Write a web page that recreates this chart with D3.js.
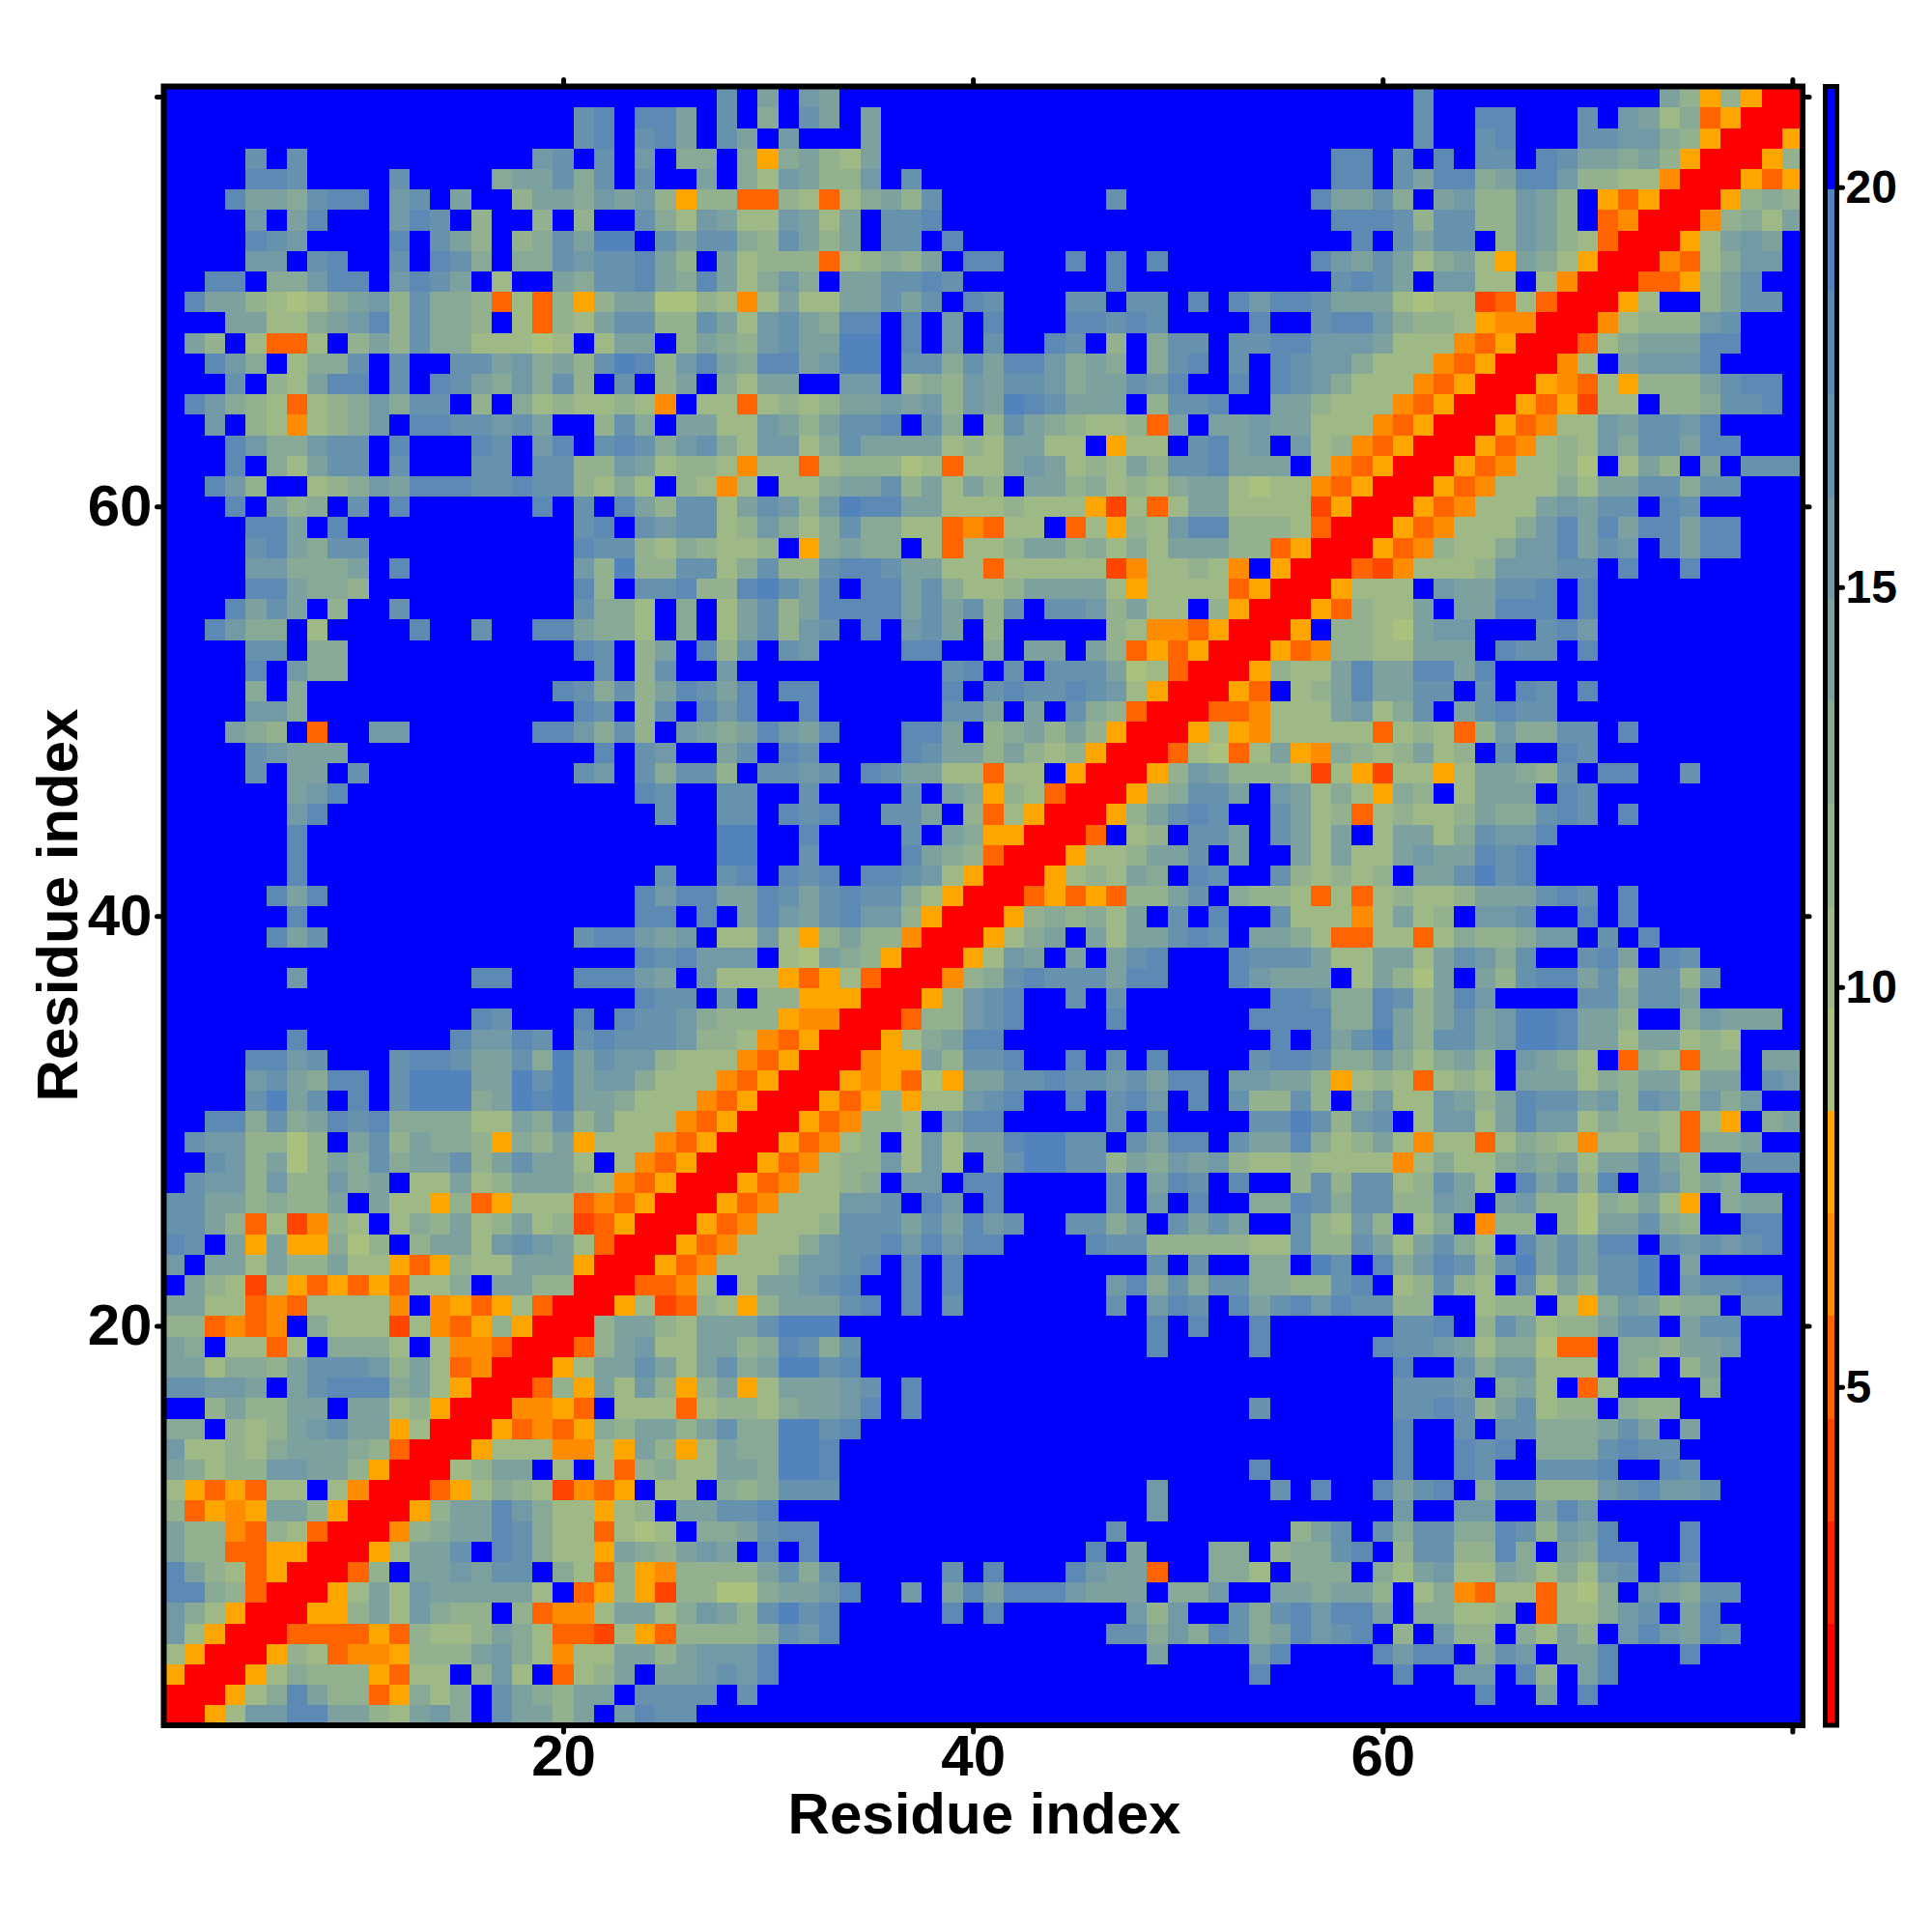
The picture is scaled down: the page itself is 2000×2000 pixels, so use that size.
<!DOCTYPE html>
<html><head><meta charset="utf-8">
<script src="https://cdn.jsdelivr.net/npm/d3@7/dist/d3.min.js"></script>
<style>html,body{margin:0;padding:0;background:#fff}svg{display:block}</style></head>
<body><svg id="c" width="2000" height="2000"></svg>
<script>
// Residue index labels
const tickValues = [20, 40, 60, 80];
const labelledTicks = [20, 40, 60];
const barTicks = [5, 10, 15, 20];
const axisTitle = "Residue index";
// Colour bar range and its sixteen colours, from lowest to highest
const barDomain = [0.77, 21.26];
const palette = ["#ff0000","#ff2200","#ff4500","#ff6400","#ff8c00","#ffa500",
  "#a9c07e","#9eb886","#93b18e","#88a996","#7da19e","#729aa6","#6792ad","#5d8ab5","#5283bd","#0000ff"];
// Symmetric map: each row is residue y, columns x = 1..y, one hex digit per colour-bar bin
const rows = {
80:"fffff fffff fffff fffff fffff ff  cfafba fffff fffff fffff fffff f  fffffff c fffffffffff a 8 5 8 5 0 0",
79:"fffff fffff fffff fffff cd f dd a f  c f 9 f c a f a fffff fffff fffff ffff  fffffff c ff dd fff c f b a 7 9 3 5 0 0",
78:"fffff fffff fffff fffff cd f cd a f  c a f b fff a fffff fffff fffff ffff  fffffff c ff c d fff c c b b 9 8 5 0 0",
77:"ffff c f c fffff ffffff b c f c f b f 9 9  f 9 5 9 a 8 7 a fffff fffff fffff ffff  fff d d f c f d f c c f d c a a 9 a 8 5 0 0",
76:"ffff d d c ffff c ffff 9 a a c 9 c f c ff a  f 9 7 b a 8 8 b f c fffff fffff fffff ff  fff d d f c a d d 9 a d d b 8 8 7 7 4 0 0",
75:"fff d a a 9 c d d f b c f a ff 8 a a 9 b a b 8 5 8  8 3 3 8 7 3 7 9 a 8 c ffffffff c fffffff  ff d a a c 9 f a b 8 8 b a 8 f 5 3 5 0 0",
74:"ffff b f a d fff b d c f 8 ff 8 f 8 ff c 9 7 b  a 7 7 b a 7 a f c c d fffff fffff fffff f  fff d d d c 8 c c 8 8 b a 8 f 3 4 0 0",
73:"ffff d c b ffff d f c a 8 f 8 9 c a e e f c a c  c 9 8 c a 8 a f c c f d fffff fffff fffff  ffff d f c a c c f 8 b a 8 7 3 0 0",
72:"ffff b b f c d ff c f d c 9 f 9 9 c b c c d a 8 f  a 7 8 8 8 3 7 8 9 8 a f d d fff d f d f d fffff  ff d b a c a 7 9 a 7 5 a 9 7 5 0 0",
71:"ff d d f 9 9 b d d f b d c a f 7 ff a 9 c c d a 9 d  a 7 9 b 9 f a a c c d c fffffff d fffffff  fff c d c a f b b 7 7 f 7 4 0 0",
70:"f d a a 8 7 6 7 9 a b 8 c 9 9 8 3 7 3 8 5 8 a a 6 6 8  7 4 7 a 7 7 a a c a c f d c fff c c f c c f d f d b  d d c a a a 7 6 7 7 2 3 7 3 0 0",
69:"fff a a 7 7 9 a b d 8 c 9 9 8 f 7 3 8 7 a c c 8 8 c  a 7 b c a 9 d d f d f b f d fff d d c d c ffff d  ff c d d b 9 8 8 7 5 4 4 0 0",
68:"f a 8 f 7 3 3 7 f 8 a 8 c 9 9 7 7 7 6 7 f 7 a a f 8 a  9 8 b c a a e e f d f b f c ff d c f 8 f 9 c c f c c  d d b b b a 7 7 7 4 3 5 0 0",
67:"ff d b 9 f 7 9 9 c f c ff c c a b 9 a 8 c e d 8 b d  a 9 d d a b e e f c c 9 c a d d b 9 a 9 f 9 c d f c f  d c b b 9 7 7 7 4 3 5 0 0",
66:"fff c f 8 7 a d d f c f d c a 9 b 9 c 8 f c f 8 a f  9 7 a a ff b b f 8 9 8 b a c c b 9 a a c b d ff d f  d c b 9 7 7 7 4 3 5 0 0",
65:"f d b 9 8 7 3 7 8 9 b 9 c c f 8 f 9 7 8 7 7 8 7 4 f 7  7 3 7 8 7 8 a a b a b 8 b a e d c a a a f 8 c c d ff  a a 8 7 7 7 4 3 5 0 0",
64:"ff b f 8 7 4 7 8 9 b f d d c c b c a ff 8 c 9 f a a  7 7 b a 8 a c c d f c 9 f 8 c a 9 8 7 7 8 3 a f a a b  a a 7 7 7 4 3 5 0 0",
63:"fff d b 9 9 b c c f d fff d c f b d f c d c 9 b c  9 7 b b 7 9 c a a a a 7 8 7 a a 7 7 f 5 7 7 f c d a b  f b 7 8 4 3 5 0 0",
62:"fff d f 9 7 a c c f c fff c c f c c 8 8 b a 7 8 8  7 4 7 7 3 7 8 8 8 6 7 3 7 7 a b a 7 8 7 a 8 c c d a a  a f 7 4 3 5 0 0",
61:"ff d b 8 ff 7 8 9 b a d d d c c d c c 8 7 9 7 f 8 7  4 7 f 7 7 9 a a c 8 a 7 a 8 f a a 8 9 7 8 7 9 a a 7 6  7 7 4 3 5 0 0",
60:"fff d f a 8 9 f c f d ffffff d f c f d a 8 c c  7 a c b 8 b e d d a a 7 7 7 8 7 7 7 5 2 7 3 7 a a 7 7  7 7 2 5 0 0",
59:"ffff d d a f d fffff ffffff c d f c b c c  7 8 b 9 7 9 c 9 9 7 7 3 4 3 7 7 f 3 7 5 8 7 b d d 8 8  8 7 3 0 0",
58:"ffff c d a 9 c c fffff fffff d c c 8 7 9 8  7 7 8 f 5 9 a 9 9 f 7 3 7 7 8 a a 8 9 7 9 7 a a a 8 8  3 5 0 0",
57:"ffff b b 9 9 9 a f d ffffffff b 8 e 8 8 c c  7 9 c 8 8 c d d c a a 7 7 3 7 7 7 7 7 2 4 7 7 8 7 4 f  5 0 0",
56:"ffff d d a 9 9 8 fffff fffff d 8 f c c d 8  8 d e c a d f d d a c 9 7 7 8 a a a a 7 5 7 7 7 7 3 5  0 0",
55:"fff d a c a f 8 ff c ffffffff c 9 9 7 f 9 f  7 a c 8 a d d d d a c a c 8 c f c c b 8 a 7 7 f 8 5 0  0",
54:"ff d b 9 9 f 7 ffff d ff c ff d d a 9 9 7 f 9 f  7 a c 8 b c f d f b c a f 8 fffff 8 7 4 4 3 5 0 0",
53:"ffff c c f 9 9 fffff ffffff d c f 8 a f d  8 c f c b ffff d d ff 9 f a a f a 8 3 5 3 5 0 0",
52:"ffff d f b 9 9 fffff fffff ff c f 8 c ff  b fffff fffff c d f c f c c c a 6 7 3 0 0",
51:"ffff 9 f 9 fffff fffff ff d c 9 c 8 a d c  a d f d d ffffff d f c d c c d c b 7 5 0 0",
50:"ffff b b 9 fffff fffff fff d c f 8 c f d  b d ff d ffffff c c a f a f c 9 8 3 0 0",
49:"fff a 9 8 f 3 ff b b ffffff d d b 9 c 8 f b a  9 a d b a d fff d d a f 8 9 a 8 a 8 5 0 0",
48:"ffff c b a a a fffff fffff ff d f c b ff  a c f d c ffff d c a a 8 a 8 7 8 5 0 0",
47:"ffff c f a a f c fffff fffff c b f c 9 c c  8 f c c b c f d c a a 7 7 3 7 7 f 5 0 0",
46:"ffffff a b d fffff fffff ffff d c ff  c c ff c ffff c f a 9 5 8 7 3 0 0",
45:"ffffff b d fffff fffff fffff f c ff  c c f d c d ff c c a f 8 3 7 5 0 0",
44:"ffffff d fffff fffff fffff fffff  e e ff d ffff c f a 9 5 5 0 0",
43:"ffffff d fffff fffff fffff fffff  e e ff c ffff d a 9 8 3 0 0",
42:"ffffff d fffff fffff fffff ff c ff  c d f d c d f d d c b 7 5 0 0",
41:"fffff d a d fffff fffff fffff d b d d  a a d c a c d c c 9 7 5 0 0",
40:"ffffff d fffff fffff fffff f d d f d  f a d b a c d b b 8 5 0 0",
39:"fffff d a c fffff fffff ff c d d b a b f  7 7 b 7 5 8 a 8 8 4 0 0",
38:"fffff fffff fffff fffff fff d c d b  b b f 7 6 a 9 8 5 0 0",
37:"ffffff b ffffffff d d fff d d d b a f b  7 7 7 5 3 5 7 3 0 0",
36:"fffff fffff fffff fffff fff d c c f  b f 8 8 5 5 5 0 0",
35:"fffff fffff fffff d c fff d f d c c b 9  8 8 8 5 4 4 0 0",
34:"ffffff d fffffff d b b d c f c d c c c b 8  8 7 4 3 5 0 0",
33:"ffff d d b c fff c d d c a a c 9 e a c b b 8 7 7  7 4 3 5 0 0",
32:"ffff b c a 9 d d f c e e e a a e c e a b b 9 7 7 7  4 3 5 0 0",
31:"ffff c e a c f d f c e e e 9 a e d e a a 9 7 7 7 4  3 5 0 0",
30:"ff d d 9 c 9 a d c d 9 9 9 9 7 7 a 9 c 8 a 7 7 7 4 3  5 0 0",
29:"f c b b 8 8 6 8 f a c 8 a 9 9 8 5 9 8 a 5 7 7 7 4 3 5  0 0",
28:"ff c b 8 a 6 8 a 9 c 9 a a c 8 a c a a 7 f 7 4 3 5 0  0",
27:"f c b b 8 b 8 8 b 9 a f 7 7 a 7 8 a a a 8 7 4 3 5 0 0",
26:"c c a a 8 9 8 8 a f a 7 7 5 8 3 5 7 7 7 3 4 3 5 0 0",
25:"c c a 8 3 7 2 4 8 7 f 7 9 8 a 7 8 a 7 8 2 3 5 0 0",
24:"d c f a 5 a 5 5 9 6 8 f 8 a a 7 b c b a 7 3 0 0",
23:"b f a a 7 a 8 8 a 7 7 5 3 5 8 7 7 a a a 5 0 0",
22:"f a 8 7 2 7 5 3 5 3 5 3 7 7 9 f a a 8 8 0 0",
21:"a a 7 7 3 4 3 7 7 7 7 4 f 4 5 3 5 7 3 0 0",
20:"8 8 3 4 3 4 f 9 7 7 7 2 7 4 3 5 8 5 0 0",
19:"a 9 f 7 7 3 7 f 9 9 9 7 f 7 4 4 3 0 0",
18:"a a 7 9 9 8 a c c c b 8 a 7 3 4 0 0",
17:"c c b b a f a c d d d 9 a 7 5 0 0",
16:"f f 8 a 8 8 a a f a a 7 8 5 0 0",
15:"9 9 f 8 7 8 a b c a a 5 7 0 0",
14:"b 7 7 8 7 9 a a a 9 8 3 0 0",
13:"a 9 7 8 8 b b a a 8 5 0 0",
12:"7 5 3 5 3 7 7 f 7 4 0 0",
11:"8 3 5 4 5 a a 8 5 0 0",
10:"a 8 8 4 3 8 7 3 0 0",
9:"a 8 8 3 3 5 5 0 0",
8:"d a 8 7 3 5 0 0",
7:"d d 9 8 3 0 0",
6:"b 9 7 5 0 0",
5:"b 7 5 0 0",
4:"7 5 0 0",
3:"5 0 0",
2:"0 0",
1:"0"
};

const N = 80;
const binWidth = (barDomain[1] - barDomain[0]) / palette.length;
const valueOf = c => barDomain[0] + (parseInt(c, 16) + 0.5) * binWidth;
const cells = [];
for (let r = 1; r <= N; r++) {
  const s = rows[r].replace(/\s+/g, "");
  for (let c = 1; c <= r; c++) {
    const v = valueOf(s[c - 1]);
    cells.push({x: c, y: r, v});
    if (c !== r) cells.push({x: r, y: c, v});
  }
}

const svg = d3.select("#c");
const plotL = 169.5, plotR = 1866, plotT = 89.5, plotB = 1786;
const x = d3.scaleLinear().domain([0.5, N + 0.5]).range([plotL, plotR]);
const y = d3.scaleLinear().domain([0.5, N + 0.5]).range([plotB, plotT]);
const colour = d3.scaleQuantize().domain(barDomain).range(palette);
const font = "'Liberation Sans', Arial, sans-serif";

svg.append("g").attr("shape-rendering", "crispEdges").selectAll("rect").data(cells).join("rect")
  .attr("x", d => x(d.x - 0.5)).attr("y", d => y(d.y + 0.5))
  .attr("width", d => x(d.x + 0.5) - x(d.x - 0.5) + 0.6)
  .attr("height", d => y(d.y - 0.5) - y(d.y + 0.5) + 0.6)
  .attr("fill", d => colour(d.v));

function styleAxis(g, size) {
  g.select(".domain").remove();
  g.selectAll(".tick line").attr("stroke", "#000").attr("stroke-width", 5).attr("stroke-linecap", "round");
  g.selectAll(".tick text").attr("font-family", font).attr("font-weight", "bold").attr("font-size", size).attr("fill", "#000");
}
const fmt = d => labelledTicks.includes(d) ? String(d) : "";
styleAxis(svg.append("g").attr("transform", `translate(0,${plotB})`)
  .call(d3.axisBottom(x).tickValues(tickValues).tickFormat(fmt).tickSize(7).tickPadding(2)), 60);
styleAxis(svg.append("g").attr("transform", `translate(${plotL},0)`)
  .call(d3.axisLeft(y).tickValues(tickValues).tickFormat(fmt).tickSize(7).tickPadding(5)), 60);
styleAxis(svg.append("g").attr("transform", `translate(0,${plotT})`)
  .call(d3.axisTop(x).tickValues(tickValues).tickFormat("").tickSize(7)), 60);
styleAxis(svg.append("g").attr("transform", `translate(${plotR},0)`)
  .call(d3.axisRight(y).tickValues(tickValues).tickFormat("").tickSize(7)), 60);

svg.append("rect").attr("x", plotL).attr("y", plotT).attr("width", plotR - plotL).attr("height", plotB - plotT)
  .attr("fill", "none").attr("stroke", "#000").attr("stroke-width", 6);

svg.append("text").attr("x", 1019).attr("y", 1898).attr("text-anchor", "middle")
  .attr("font-family", font).attr("font-weight", "bold").attr("font-size", 60).text(axisTitle);
svg.append("text").attr("transform", "translate(80,937) rotate(-90)").attr("text-anchor", "middle")
  .attr("font-family", font).attr("font-weight", "bold").attr("font-size", 60).text(axisTitle);

// Colour bar
const barL = 1889.5, barR = 1901.5;
const by = d3.scaleLinear().domain(barDomain).range([plotB, plotT]);
svg.append("g").attr("shape-rendering", "crispEdges").selectAll("rect").data(palette).join("rect")
  .attr("x", barL).attr("width", barR - barL)
  .attr("y", (c, i) => by(barDomain[0] + (i + 1) * binWidth))
  .attr("height", (plotB - plotT) / palette.length + 0.6)
  .attr("fill", c => c);
svg.append("rect").attr("x", barL).attr("y", plotT).attr("width", barR - barL).attr("height", plotB - plotT)
  .attr("fill", "none").attr("stroke", "#000").attr("stroke-width", 5);
styleAxis(svg.append("g").attr("transform", `translate(${barR},0)`)
  .call(d3.axisRight(by).tickValues(barTicks).tickSize(6).tickPadding(3)), 48);
</script></body></html>
